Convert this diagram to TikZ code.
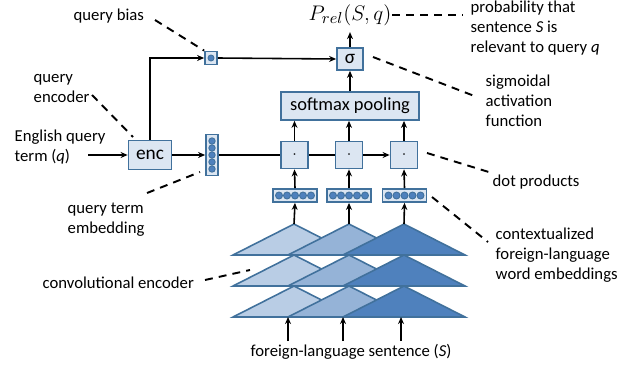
\documentclass[tikz,border=0pt]{standalone}
\usepackage{fontspec}
\setmainfont{Carlito}
\usetikzlibrary{arrows.meta}
\definecolor{bxfill}{HTML}{DCE6F2}
\definecolor{bxline}{HTML}{41719C}
\definecolor{dotblue}{HTML}{4F81BD}
\definecolor{trilight}{HTML}{B9CDE5}
\definecolor{trimid}{HTML}{95B3D7}
\definecolor{tridark}{HTML}{4F81BD}

\begin{document}
\begin{tikzpicture}[x=0.02cm,y=-0.02cm,line width=0.8pt,
  font=\fontsize{9.5}{11.4}\selectfont,
  box/.style={draw=bxline,fill=bxfill,line width=1pt,inner sep=0pt},
  arr/.style={-{Stealth[length=4pt,width=3.4pt]},line width=0.9pt},
  note/.style={line width=1.1pt,dash pattern=on 4.5pt off 3.5pt},
  lbl/.style={anchor=west,align=left,inner sep=0pt},
  bead/.style={draw=bxline,fill=dotblue,line width=0.5pt}]
  \useasboundingbox (0,0) rectangle (644,365);

  % convolutional encoder: three columns of stacked triangles
  \foreach \x/\c in {294/trilight,349/trimid,404/tridark}{
    \foreach \t in {224,255,286}{
      \filldraw[draw=bxline,fill=\c,line width=0.9pt]
        (\x,\t) -- (\x+61,\t+31) -- (\x-61,\t+31) -- cycle;
    }
  }
  % apexes and sentence inputs
  \coordinate (t1) at (294,224);
  \coordinate (t2) at (349,224);
  \coordinate (t3) at (404,224);
  \coordinate (b1) at (288,317);
  \coordinate (b2) at (343,317);
  \coordinate (b3) at (401,317);
  \coordinate (s1) at (288,341);
  \coordinate (s2) at (343,341);
  \coordinate (s3) at (401,341);

  % boxes
  \node[box,minimum width=0.86cm,minimum height=0.58cm,font=\fontsize{11}{13}\selectfont] (enc) at (150,155) {enc};
  \node[box,minimum width=0.24cm,minimum height=0.26cm] (bias) at (211,58) {};
  \node[box,minimum width=0.52cm,minimum height=0.44cm,font=\fontsize{11}{13}\selectfont] (sig) at (350,59) {σ};
  \node[box,minimum width=2.76cm,minimum height=0.56cm,font=\fontsize{10.5}{12}\selectfont] (pool) at (350,106) {softmax pooling};
  \node[box,minimum width=0.54cm,minimum height=0.54cm] (d1) at (294.5,155) {$\cdot$};
  \node[box,minimum width=0.54cm,minimum height=0.54cm] (d2) at (349,155) {$\cdot$};
  \node[box,minimum width=0.54cm,minimum height=0.54cm] (d3) at (404,155) {$\cdot$};
  \node[box,minimum width=0.24cm,minimum height=0.82cm] (qv) at (212,155) {};
  \node[box,minimum width=0.88cm,minimum height=0.26cm] (e1) at (295,195.5) {};
  \node[box,minimum width=0.88cm,minimum height=0.26cm] (e2) at (349,195.5) {};
  \node[box,minimum width=0.88cm,minimum height=0.26cm] (e3) at (404.5,195.5) {};
  % beads inside the vectors
  \fill[bead] (bias) circle[radius=3];
  \foreach \d in {-14,-7,0,7,14}{ \filldraw[bead] (212,155+\d) circle[radius=3.2]; }
  \foreach \v in {e1,e2,e3}{
    \foreach \d in {-16,-8,0,8,16}{ \filldraw[bead] ([xshift=\d*0.02cm]\v.center) circle[radius=3.5]; }
  }

  % output
  \node (P) at (350,15) {\fontsize{13}{15}\selectfont$P_{rel}(S,q)$};

  % labels
  \node[lbl] (qb) at (73,16) {query bias};
  \node[lbl] (qe) at (33,88.5) {query\\encoder};
  \node[lbl] (eq) at (14,147) {English query\\term (\textit{q})};
  \node[lbl] (qt) at (67,220) {query term\\embedding};
  \node[lbl] (ce) at (42,283) {convolutional encoder};
  \node[inner sep=0pt] (fs) at (351,352) {foreign-language sentence (\textit{S})};
  \node[lbl] (ctx) at (495,255) {contextualized\\foreign-language\\word embeddings};
  \node[lbl] (dp) at (492,182) {dot products};
  \node[lbl] (sg) at (485,101) {sigmoidal\\activation\\function};
  \node[lbl] (pr) at (470,28) {probability that\\sentence \textit{S} is\\relevant to query \textit{q}};

  % data flow
  \coordinate (qin) at (88,155);
  \draw[arr] (qin) -- (enc.west);
  \draw[arr] (enc.east) -- (qv.west);
  \draw (qv.east) -- (d1.west);
  \draw (d1.east) -- (d2.west);
  \draw[arr] (d2.east) -- (d3.west);
  \draw[arr] (enc.north) |- (bias.west);
  \draw[arr] (bias.east) -- (sig.west);
  \draw[arr] (pool.north -| sig) -- (sig.south);
  \draw[arr] (sig.north) -- (P.south);
  \foreach \i in {1,2,3}{
    \draw[arr] (d\i.north) -- (d\i.north |- pool.south);
    \draw[arr] (e\i.north) -- (d\i.south);
    \draw[arr] (t\i) -- (e\i.south);
    \draw[arr] (s\i) -- (b\i);
  }

  % dashed callouts
  \draw[note] (155,20) -- (bias.north west);
  \draw[note] (392,15) -- (463,15);
  \draw[note] (373,57) -- (477,97);
  \draw[note] (92,95) -- (133,137);
  \draw[note] (427,153) -- (492,173);
  \draw[note] (147,193) -- (200,172);
  \draw[note] (432,197) -- (488,242);
  \draw[note] (205,280) -- (250,270);
\end{tikzpicture}
\end{document}
